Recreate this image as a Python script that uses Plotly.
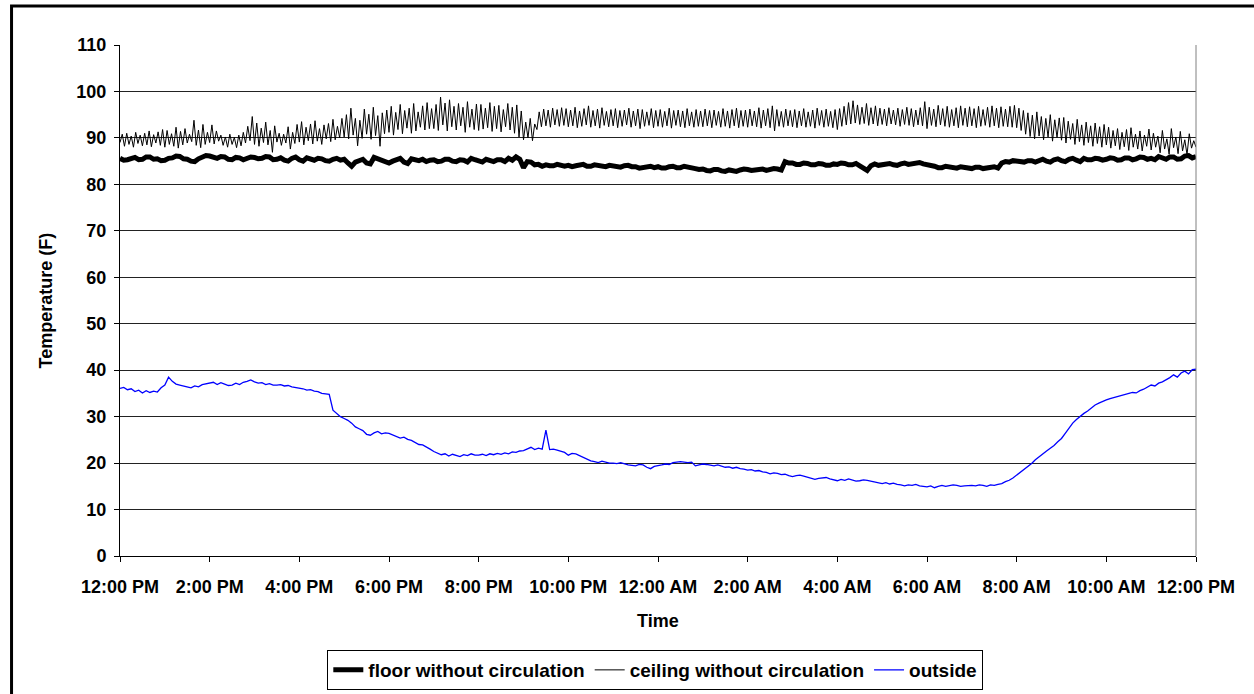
import pandas as pd
import plotly.graph_objects as go

# -----------------------------
# Data
# -----------------------------

start = "2005-01-20 12:00"
end = "2005-01-21 12:00"

# ceiling, one value every 3 minutes, one row per hour starting 12:00 PM
ceiling = [
    89.0, 90.8, 88.2, 91.0, 88.6, 90.4, 88.0, 91.2, 88.8, 90.6, 88.3, 91.0, 88.5, 91.5, 88.1, 90.7, 88.9, 91.3, 88.4, 91.8,
    88.0, 91.6, 88.6, 90.9, 88.2, 92.3, 87.8, 91.4, 88.5, 92.0, 88.9, 90.8, 89.2, 93.8, 88.4, 91.7, 87.9, 92.9, 88.6, 91.2,
    89.0, 92.8, 88.7, 91.5, 89.3, 90.6, 88.4, 90.2, 88.0, 90.8, 88.6, 90.1, 87.9, 90.6, 88.3, 91.2, 88.9, 92.5, 89.4, 94.6,
    88.6, 93.2, 88.2, 92.1, 89.0, 93.4, 88.5, 91.6, 86.9, 92.6, 89.1, 91.0, 88.4, 90.8, 88.9, 92.4, 87.6, 91.2, 88.8, 92.9,
    89.1, 93.5, 88.5, 92.3, 89.4, 93.0, 88.7, 93.7, 89.3, 92.0, 88.6, 92.8, 89.8, 93.1, 89.2, 94.0, 89.6, 92.5, 90.0, 94.2,
    90.2, 95.0, 89.8, 96.4, 90.6, 94.2, 88.3, 93.8, 89.9, 96.2, 90.8, 95.1, 89.7, 96.6, 90.5, 94.8, 88.2, 95.4, 90.9, 96.0,
    91.2, 96.8, 90.6, 95.5, 91.8, 97.2, 90.9, 95.9, 92.1, 96.4, 91.0, 97.4, 91.5, 95.6, 92.3, 96.9, 91.7, 97.6, 92.0, 96.3,
    92.0, 97.2, 91.6, 98.8, 92.8, 97.5, 91.5, 98.2, 92.4, 96.8, 91.7, 97.4, 92.6, 96.6, 91.2, 97.8, 92.3, 96.2, 91.8, 97.3,
    91.6, 97.2, 91.9, 96.4, 92.2, 97.6, 91.4, 96.8, 92.0, 97.0, 91.3, 96.1, 92.4, 97.4, 91.7, 96.6, 91.0, 97.1, 90.2, 95.8,
    89.6, 93.4, 90.0, 94.2, 89.4, 93.0, 91.8, 95.6, 92.4, 96.2, 92.6, 96.0, 92.3, 96.4, 92.8, 96.1, 92.5, 96.5, 92.7, 96.3,
    92.4, 96.0, 92.6, 96.6, 92.2, 95.8, 92.5, 96.3, 92.8, 96.9, 92.3, 95.9, 92.6, 96.2, 92.1, 96.5, 92.7, 95.7, 92.4, 96.1,
    92.6, 96.3, 92.2, 95.9, 92.5, 96.0, 92.8, 96.4, 92.3, 95.8, 92.6, 96.2, 92.0, 96.1, 92.5, 95.6, 92.7, 96.3, 92.2, 95.9,
    92.5, 96.1, 92.3, 95.7, 92.6, 96.4, 92.1, 95.9, 92.7, 96.0, 92.4, 95.8, 92.2, 96.3, 92.6, 95.6, 92.3, 96.1, 92.5, 95.8,
    92.4, 96.2, 92.6, 95.9, 92.2, 96.0, 92.7, 95.7, 92.3, 96.3, 92.5, 95.8, 92.1, 96.1, 92.6, 96.4, 92.2, 95.9, 92.5, 96.0,
    92.3, 96.2, 92.6, 95.8, 92.4, 96.5, 92.1, 96.0, 92.6, 96.3, 92.2, 96.9, 91.5, 96.1, 92.5, 95.7, 92.3, 96.2, 92.6, 95.9,
    92.4, 96.1, 92.2, 95.8, 92.6, 96.3, 92.3, 95.6, 92.5, 96.0, 92.1, 96.4, 92.7, 95.9, 92.3, 96.2, 92.5, 95.7, 92.2, 96.1,
    91.8, 96.3, 92.5, 96.8, 92.8, 97.6, 93.0, 98.0, 93.2, 97.1, 92.9, 96.6, 93.1, 97.4, 92.7, 96.5, 93.0, 96.9, 92.6, 96.4,
    92.9, 96.2, 92.6, 96.5, 93.0, 96.0, 92.8, 96.4, 92.5, 96.1, 92.9, 96.6, 92.7, 96.3, 92.4, 96.0, 92.8, 96.5, 92.6, 97.8,
    92.0, 96.6, 92.7, 96.2, 92.4, 97.0, 92.8, 96.3, 92.5, 96.8, 92.3, 96.1, 92.6, 96.5, 92.2, 96.9, 92.7, 96.4, 92.4, 96.7,
    92.6, 96.3, 92.2, 96.8, 92.5, 96.1, 92.7, 96.6, 92.3, 96.9, 92.6, 96.4, 92.2, 96.7, 92.5, 96.2, 92.4, 96.8, 92.3, 97.0,
    92.2, 96.4, 91.6, 95.9, 90.8, 95.4, 90.3, 94.9, 89.8, 95.6, 90.4, 94.6, 89.6, 94.2, 90.2, 95.0, 89.3, 93.9, 90.1, 94.3,
    89.5, 94.4, 88.9, 93.6, 89.7, 93.1, 88.6, 94.0, 89.2, 92.8, 88.4, 93.4, 89.0, 92.6, 88.2, 93.2, 88.8, 92.4, 88.0, 92.9,
    88.5, 92.3, 87.8, 91.6, 88.3, 92.0, 87.5, 91.2, 88.1, 91.8, 87.3, 92.2, 88.0, 90.8, 87.6, 91.5, 87.2, 90.6, 88.2, 91.9,
    87.4, 91.0, 88.0, 90.4, 86.8, 91.6, 87.6, 89.8, 86.5, 92.0, 87.9, 90.2, 86.6, 91.4, 87.2, 89.6, 86.4, 90.9, 87.8, 89.4,
    88.0,
]

# floor, one value every 5 minutes
floor = [
    85.6, 85.2, 85.3, 85.7, 85.8, 85.3, 85.4, 85.9, 85.9, 85.4, 85.5, 85.1,
    85.2, 85.6, 85.7, 86.1, 86.0, 85.5, 85.4, 85.0, 84.9, 85.5, 85.8, 86.2,
    86.1, 85.7, 85.6, 86.0, 85.9, 85.4, 85.3, 85.8, 85.7, 85.3, 85.5, 85.9,
    85.8, 85.5, 85.6, 86.0, 85.9, 85.3, 85.4, 85.7, 85.2, 85.0, 85.6, 85.9,
    85.3, 85.0, 85.7, 85.4, 85.2, 85.6, 85.5, 85.1, 85.0, 85.4, 85.6, 85.2,
    85.4, 84.6, 83.9, 84.8, 85.1, 85.4, 84.6, 84.4, 85.8, 85.5, 85.0, 84.7,
    84.6, 85.0, 85.3, 85.6, 84.8, 84.5, 85.5, 85.2, 85.1, 85.4, 84.9, 85.2,
    85.3, 84.9, 85.0, 85.4, 85.4, 85.0, 84.9, 85.3, 85.2, 84.8, 85.6, 85.3,
    85.1, 84.8, 85.4, 85.1, 84.9, 85.3, 85.3, 84.9, 85.6, 85.2, 85.9, 85.4,
    83.6, 84.9, 84.8, 84.2, 84.3, 83.9, 84.2, 84.0, 84.0, 84.3, 84.2, 83.9,
    84.1, 83.8, 84.0, 84.2, 84.3, 83.9, 83.9, 84.2, 84.1, 83.8, 83.8, 84.1,
    84.0, 83.7, 83.7, 84.0, 84.1, 83.8, 83.8, 83.5, 83.6, 83.9, 83.9, 83.6,
    83.8, 83.5, 83.5, 83.8, 83.9, 83.6, 83.6, 83.9, 83.8, 83.5, 83.4, 83.2,
    83.3, 83.0, 82.9, 83.2, 83.2, 82.9, 82.8, 83.1, 83.0, 82.8, 83.1, 83.3,
    83.2, 83.0, 83.1, 83.3, 83.3, 83.0, 83.2, 83.4, 83.3, 83.1, 84.9, 84.6,
    84.6, 84.3, 84.3, 84.6, 84.5, 84.2, 84.2, 84.5, 84.4, 84.1, 84.1, 84.4,
    84.3, 84.6, 84.5, 84.2, 84.2, 84.5, 84.0, 83.6, 83.0, 84.0, 84.4, 84.1,
    84.2, 84.5, 84.5, 84.2, 84.1, 84.4, 84.6, 84.3, 84.4, 84.7, 84.7, 84.4,
    84.3, 84.0, 83.9, 83.6, 83.6, 83.9, 83.8, 83.5, 83.5, 83.8, 83.7, 83.4,
    83.4, 83.7, 83.7, 83.4, 83.5, 83.8, 83.8, 83.5, 84.6, 84.9, 84.8, 85.1,
    85.0, 84.7, 84.8, 85.1, 85.1, 84.8, 85.2, 85.4, 85.0, 84.8, 85.3, 85.5,
    85.1, 84.9, 85.4, 85.6, 85.2, 84.9, 85.6, 85.3, 85.3, 85.6, 85.5, 85.2,
    85.4, 85.7, 85.6, 85.2, 85.3, 85.7, 85.7, 85.3, 85.5, 85.9, 85.8, 85.4,
    85.6, 85.3, 86.0, 85.6, 85.4, 85.9, 85.9, 85.4, 85.5, 86.1, 86.2, 85.7,
    86.0,
]

# outside, one value every 5 minutes
outside = [
    36.1, 36.3, 35.8, 36.0, 35.4, 35.7, 35.1, 35.6, 35.2, 35.5, 35.3, 36.2,
    36.8, 38.5, 37.6, 37.0, 36.8, 36.6, 36.4, 36.2, 36.6, 36.4, 36.9, 37.1,
    37.2, 37.4, 36.9, 37.3, 37.0, 36.7, 36.8, 37.2, 36.9, 37.4, 37.6, 37.9,
    37.5, 37.2, 37.3, 36.9, 37.1, 36.8, 36.8, 36.9, 36.6, 36.7, 36.4, 36.3,
    36.1, 36.0, 35.7, 35.8, 35.5, 35.4, 35.0, 34.9, 34.8, 31.4, 30.6, 30.0,
    29.6, 29.2, 28.6, 27.8, 27.4, 27.0, 26.2, 26.0, 26.5, 26.8, 26.3, 26.5,
    26.4, 26.1, 25.8, 25.4, 25.6, 25.1, 24.9, 24.4, 24.0, 23.9, 23.5, 23.0,
    22.5, 22.2, 21.8, 22.0, 21.5, 21.9, 21.7, 21.4, 21.8, 21.6, 22.0, 21.7,
    21.7, 21.9, 21.6, 22.0, 21.8, 22.1, 21.9, 22.2, 22.0, 22.4, 22.3, 22.6,
    22.7, 23.1, 23.4, 22.9, 23.2, 23.0, 27.1, 22.9, 23.0, 22.8, 22.6, 22.3,
    21.7, 22.1, 22.0, 21.6, 21.2, 20.8, 20.5, 20.3, 20.1, 20.4, 20.2, 20.0,
    20.0, 19.9, 20.1, 19.8, 19.6, 19.5, 19.4, 19.7, 19.6, 19.1, 18.8, 19.3,
    19.4, 19.6, 19.8, 19.7, 20.1, 20.2, 20.3, 20.2, 20.1, 20.2, 19.4, 19.6,
    19.8, 19.7, 19.5, 19.4, 19.6, 19.3, 19.1, 19.2, 18.9, 19.1, 18.8, 18.7,
    18.5, 18.6, 18.3, 18.4, 18.1, 18.0, 17.7, 17.9, 17.8, 17.5, 17.6, 17.3,
    17.1, 17.3, 17.4, 17.2, 17.0, 16.8, 16.5, 16.7, 16.8, 16.9, 16.6, 16.4,
    16.2, 16.5, 16.3, 16.6, 16.4, 16.1, 16.2, 16.4, 16.3, 16.1, 15.9, 15.7,
    15.6, 15.8, 15.5, 15.7, 15.4, 15.3, 15.1, 15.3, 15.2, 15.4, 15.1, 15.0,
    14.9, 15.1, 14.7, 15.0, 15.2, 15.0, 15.1, 15.3, 15.2, 15.0, 15.1, 15.2,
    15.2, 15.1, 15.3, 15.2, 15.0, 15.3, 15.2, 15.4, 15.6, 16.0, 16.3, 16.8,
    17.4, 17.9, 18.6, 19.2, 19.9, 20.7, 21.4, 22.0, 22.6, 23.2, 23.8, 24.6,
    25.3, 26.4, 27.6, 28.6, 29.4, 30.1, 30.7, 31.2, 31.9, 32.5, 32.9, 33.3,
    33.6, 33.9, 34.1, 34.4, 34.6, 34.8, 35.0, 35.2, 35.1, 35.6, 35.9, 36.3,
    36.8, 36.6, 37.2, 37.5, 37.9, 38.4, 39.0, 38.5, 39.4, 39.8, 39.2, 40.1,
    40.2,
]

t_ceiling = pd.date_range(start, end, freq="3min")
t_floor = pd.date_range(start, end, freq="5min")
t_outside = pd.date_range(start, end, freq="5min")

font = "Liberation Sans, Arial, sans-serif"

# -----------------------------
# Figure
# -----------------------------

fig = go.Figure()

fig.add_trace(go.Scatter(
    x=t_floor, y=floor, mode="lines", name="<b>floor without circulation</b>",
    line=dict(color="black", width=5)
))

fig.add_trace(go.Scatter(
    x=t_ceiling, y=ceiling, mode="lines", name="<b>ceiling without circulation</b>",
    line=dict(color="black", width=1)
))

fig.add_trace(go.Scatter(
    x=t_outside, y=outside, mode="lines", name="<b>outside</b>",
    line=dict(color="#0000FF", width=1.3)
))

fig.update_xaxes(
    type="date",
    range=[start, end],
    tick0=start,
    dtick=2 * 3600 * 1000,
    tickformat="%-I:%M %p",
    ticks="outside",
    ticklen=5,
    tickcolor="black",
    ticklabelstandoff=9,
    showline=True,
    linecolor="black",
    linewidth=1,
    showgrid=False,
    zeroline=False,
    automargin=False,
    tickfont=dict(family=font, size=18, color="black", weight="bold"),
)

fig.update_yaxes(
    range=[0, 110],
    dtick=10,
    ticks="outside",
    ticklen=5,
    tickcolor="black",
    ticklabelstandoff=4,
    showline=True,
    linecolor="black",
    linewidth=1,
    showgrid=True,
    gridcolor="#222222",
    gridwidth=1,
    zeroline=False,
    automargin=False,
    tickfont=dict(family=font, size=18, color="black", weight="bold"),
)

fig.update_layout(
    width=1254,
    height=694,
    margin=dict(l=120, r=58, t=45, b=138, autoexpand=False),
    paper_bgcolor="white",
    plot_bgcolor="white",
    showlegend=True,
    legend=dict(
        orientation="h",
        x=0.4975,
        xanchor="center",
        y=-0.184,
        yanchor="top",
        bgcolor="white",
        bordercolor="black",
        borderwidth=1,
        font=dict(family=font, size=19, color="black"),
        itemwidth=30,
        traceorder="normal",
    ),
    shapes=[
        # grey right edge of plot area
        dict(type="line", xref="paper", yref="paper", x0=1, x1=1, y0=0, y1=1,
             line=dict(color="#808080", width=1)),
        # chart border
        dict(type="rect", xref="paper", yref="paper", x0=-0.1008, x1=1.08, y0=-0.30, y1=1.0763,
             line=dict(color="black", width=3)),
    ],
    annotations=[
        dict(text="<b>Temperature (F)</b>", xref="paper", yref="paper", x=-0.0697, y=0.5,
             textangle=-90, showarrow=False, xanchor="center", yanchor="middle",
             font=dict(family=font, size=18, color="black")),
        dict(text="<b>Time</b>", xref="paper", yref="paper", x=0.5, y=-0.1272,
             showarrow=False, xanchor="center", yanchor="middle",
             font=dict(family=font, size=18, color="black")),
    ],
)

# drop the default 8px body margin so the figure sits at the page origin
fig.write_html(
    "out.html",
    config={"displayModeBar": False},
    post_script="document.body.style.margin = '0px';",
)
